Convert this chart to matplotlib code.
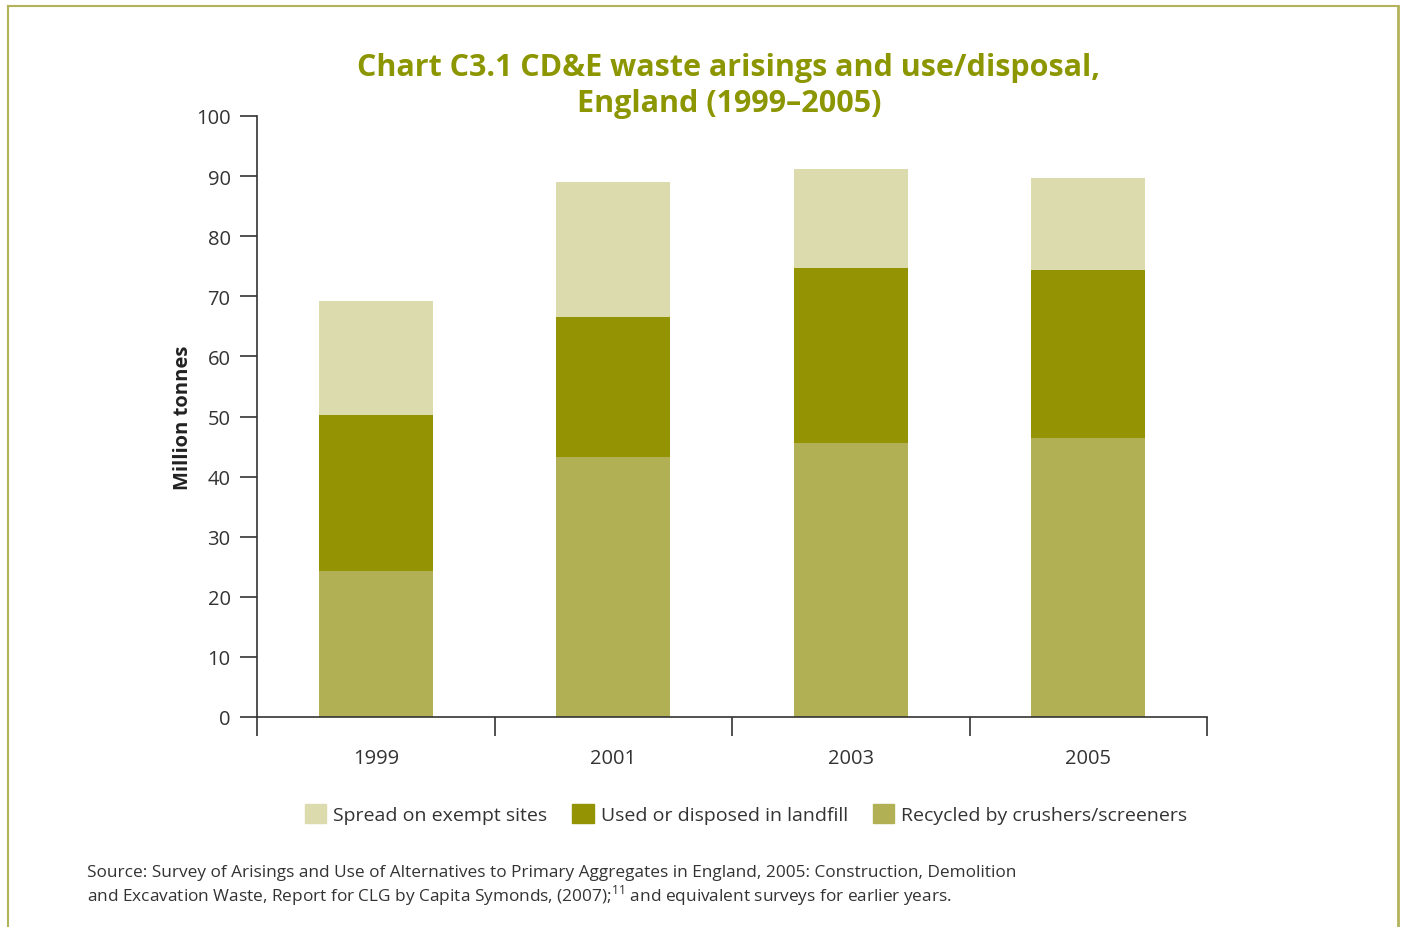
import numpy as np
import matplotlib
matplotlib.use("Agg")
import matplotlib.pyplot as plt
from matplotlib.patches import Patch

plt.rcParams['font.family'] = ['Open Sans', 'DejaVu Sans']

# data (million tonnes)
years = ["1999", "2001", "2003", "2005"]
recycled = [24.3, 43.3, 45.6, 46.4]
landfill = [25.9, 23.3, 29.1, 28.0]
spread = [19.0, 22.4, 16.5, 15.3]
series_labels = ["Spread on exempt sites", "Used or disposed in landfill",
                 "Recycled by crushers/screeners"]
y_ticks = [0, 10, 20, 30, 40, 50, 60, 70, 80, 90, 100]

c_light = "#dcdbae"
c_dark = "#939304"
c_mid = "#b1b055"
c_title = "#8c9600"
c_text = "#333333"

fig = plt.figure(figsize=(14.02, 9.28), dpi=100)

# olive frame around the panel (no bottom edge visible)
frame_col = "#b3b35a"
fig.add_artist(plt.Line2D([8/1402, 8/1402], [0, 1 - 7/928], color=frame_col, lw=1.5))
fig.add_artist(plt.Line2D([8/1402, 1398/1402], [1 - 7/928, 1 - 7/928], color=frame_col, lw=1.5))
fig.add_artist(plt.Line2D([1398/1402, 1398/1402], [0, 1 - 7/928], color=frame_col, lw=2))

ax = fig.add_axes([257/1402, 1 - 718/928, 950/1402, 601/928])

x = np.arange(len(years))
w = 0.48
ax.bar(x, recycled, w, color=c_mid)
ax.bar(x, landfill, w, bottom=recycled, color=c_dark)
ax.bar(x, spread, w, bottom=np.add(recycled, landfill), color=c_light)

ax.set_xlim(-0.5, len(years) - 0.5)
ax.set_ylim(0, 100)
ax.set_yticks(y_ticks)
ax.set_xticks(x)
ax.set_xticklabels(years)
ax.set_xticks(np.arange(-0.5, len(years), 1), minor=True)
ax.tick_params(axis='x', which='major', length=0, pad=22, labelsize=14.5, labelcolor=c_text)
ax.tick_params(axis='x', which='minor', length=14, width=1.2, color=c_text, direction='out')
ax.tick_params(axis='y', length=12, width=1.2, color=c_text, pad=7, labelsize=14.5,
               labelcolor=c_text)
for s in ["top", "right"]:
    ax.spines[s].set_visible(False)
for s in ["left", "bottom"]:
    ax.spines[s].set_color(c_text)
    ax.spines[s].set_linewidth(1.2)

ax.set_ylabel("Million tonnes", fontsize=14.5, fontweight='bold', color="#222222", labelpad=2)

fig.text(729/1402, 1 - 86/928, "Chart C3.1 CD&E waste arisings and use/disposal,\nEngland (1999\u20132005)",
         ha='center', va='center', fontsize=22, fontweight='bold', color=c_title,
         linespacing=1.3)

handles = [Patch(color=c_light), Patch(color=c_dark), Patch(color=c_mid)]
fig.legend(handles, series_labels, loc='center', bbox_to_anchor=(746/1402, 1 - 815/928),
           ncol=3, frameon=False, fontsize=14, handlelength=1.1, handleheight=1.15,
           handletextpad=0.35, columnspacing=1.3, labelcolor=c_text)

fig.text(87/1402, 1 - 873/928,
         "Source: Survey of Arisings and Use of Alternatives to Primary Aggregates in England, 2005: Construction, Demolition",
         ha='left', va='center', fontsize=12.4, color=c_text)
fig.text(87/1402, 1 - 896/928,
         r"and Excavation Waste, Report for CLG by Capita Symonds, (2007);$^{\mathregular{11}}$ and equivalent surveys for earlier years.",
         ha='left', va='center', fontsize=12.4, color=c_text)

fig.savefig("out.png", dpi=100)
